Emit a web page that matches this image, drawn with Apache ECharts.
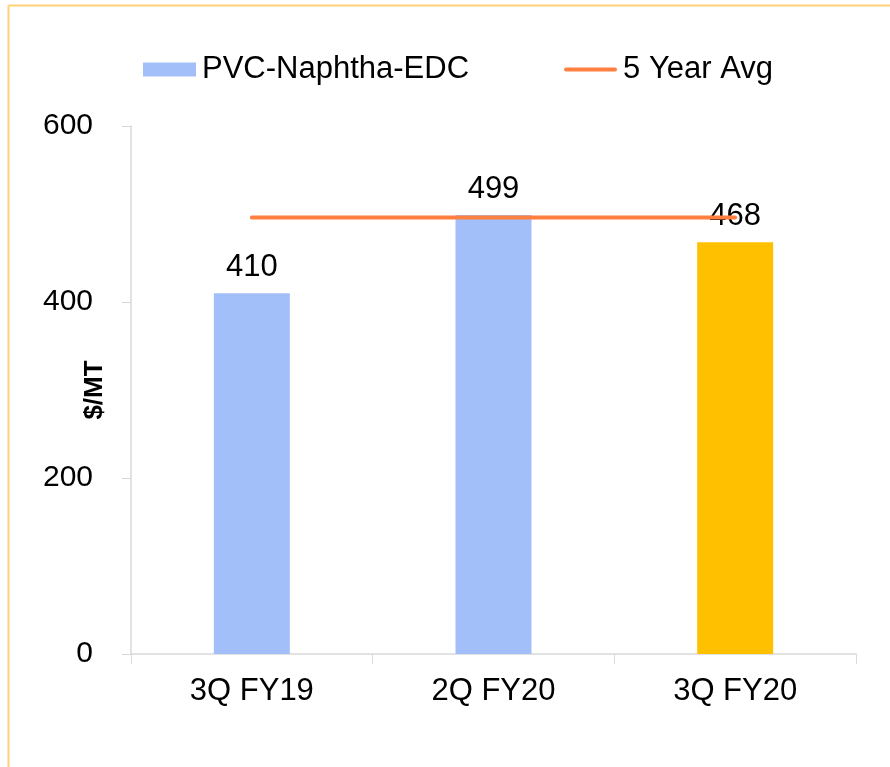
<!DOCTYPE html>
<html>
<head>
<meta charset="utf-8">
<script src="https://cdn.jsdelivr.net/npm/echarts@6/dist/echarts.min.js"></script>
<style>
html,body{margin:0;padding:0;background:#fff;}
#chart{width:890px;height:767px;}
</style>
</head>
<body>
<div id="chart"></div>
<script>
const categories = ['3Q FY19', '2Q FY20', '3Q FY20'];
const spreadValues = [410, 499, 468];
const avgValues = [496, 496, 496];
const yTicks = { min: 0, max: 600, interval: 200 };

const FONT = '"Liberation Sans", Arial, sans-serif';
const barColors = ['#A3BFFA', '#A3BFFA', '#FFC000'];
const lineIcon = 'path://M0,0 L0.01,0 L0,0.01 Z M53,14 L52.99,14 L53,13.99 Z M1,5 L52,5 A2,2 0 0 1 52,9 L1,9 A2,2 0 0 1 1,5 Z';

const chart = echarts.init(document.getElementById('chart'), null, { renderer: 'canvas' });
chart.setOption({
  backgroundColor: '#fff',
  animation: false,
  textStyle: { fontFamily: FONT },
  graphic: [
    { type: 'line', shape: { x1: 8.5, y1: 5.5, x2: 890, y2: 5.5 }, style: { stroke: '#FFD27A', lineWidth: 2 } },
    { type: 'line', shape: { x1: 8.5, y1: 5.5, x2: 8.5, y2: 767 }, style: { stroke: '#FFD27A', lineWidth: 2 } }
  ],
  legend: {
    left: 138,
    top: 49,
    itemWidth: 53,
    itemHeight: 14,
    itemGap: 95,
    textStyle: { fontFamily: FONT, fontSize: 31, color: '#000', padding: [0, 0, 0, 1] },
    data: [
      { name: 'PVC-Naphtha-EDC', icon: 'rect' },
      { name: '5 Year Avg', icon: lineIcon, itemStyle: { color: '#FF8040', borderWidth: 0 } }
    ]
  },
  grid: { left: 131, right: 34, top: 126, bottom: 113 },
  xAxis: {
    type: 'category',
    data: categories,
    boundaryGap: true,
    axisLine: { show: true, lineStyle: { color: '#D9D9D9', width: 1.5 } },
    axisTick: { show: true, length: 10, interval: 0, lineStyle: { color: '#D9D9D9' } },
    axisLabel: { fontFamily: FONT, fontSize: 31, color: '#000', margin: 22, interval: 0 }
  },
  yAxis: {
    type: 'value',
    min: yTicks.min,
    max: yTicks.max,
    interval: yTicks.interval,
    name: '$/MT',
    nameLocation: 'middle',
    nameGap: 23,
    nameMoveOverlap: false,
    nameTextStyle: { fontFamily: FONT, fontSize: 26, fontWeight: 'bold', color: '#000' },
    axisLine: { show: true, lineStyle: { color: '#D9D9D9', width: 1.5 } },
    axisTick: { show: true, length: 9, lineStyle: { color: '#D9D9D9' } },
    splitLine: { show: false },
    axisLabel: { fontFamily: FONT, fontSize: 30, color: '#000', margin: 38 }
  },
  series: [
    {
      name: 'PVC-Naphtha-EDC',
      type: 'bar',
      barWidth: 76,
      itemStyle: { color: barColors[0] },
      data: spreadValues.map((v, i) => ({ value: v, itemStyle: { color: barColors[i] } })),
      label: { show: true, position: 'top', distance: 10, fontFamily: FONT, fontSize: 31, color: '#000' },
      z: 2
    },
    {
      name: '5 Year Avg',
      type: 'line',
      data: avgValues,
      symbol: 'none',
      lineStyle: { color: '#FF8040', width: 4, cap: 'round' },
      itemStyle: { color: '#FF8040' },
      z: 2
    }
  ]
});
</script>
</body>
</html>
